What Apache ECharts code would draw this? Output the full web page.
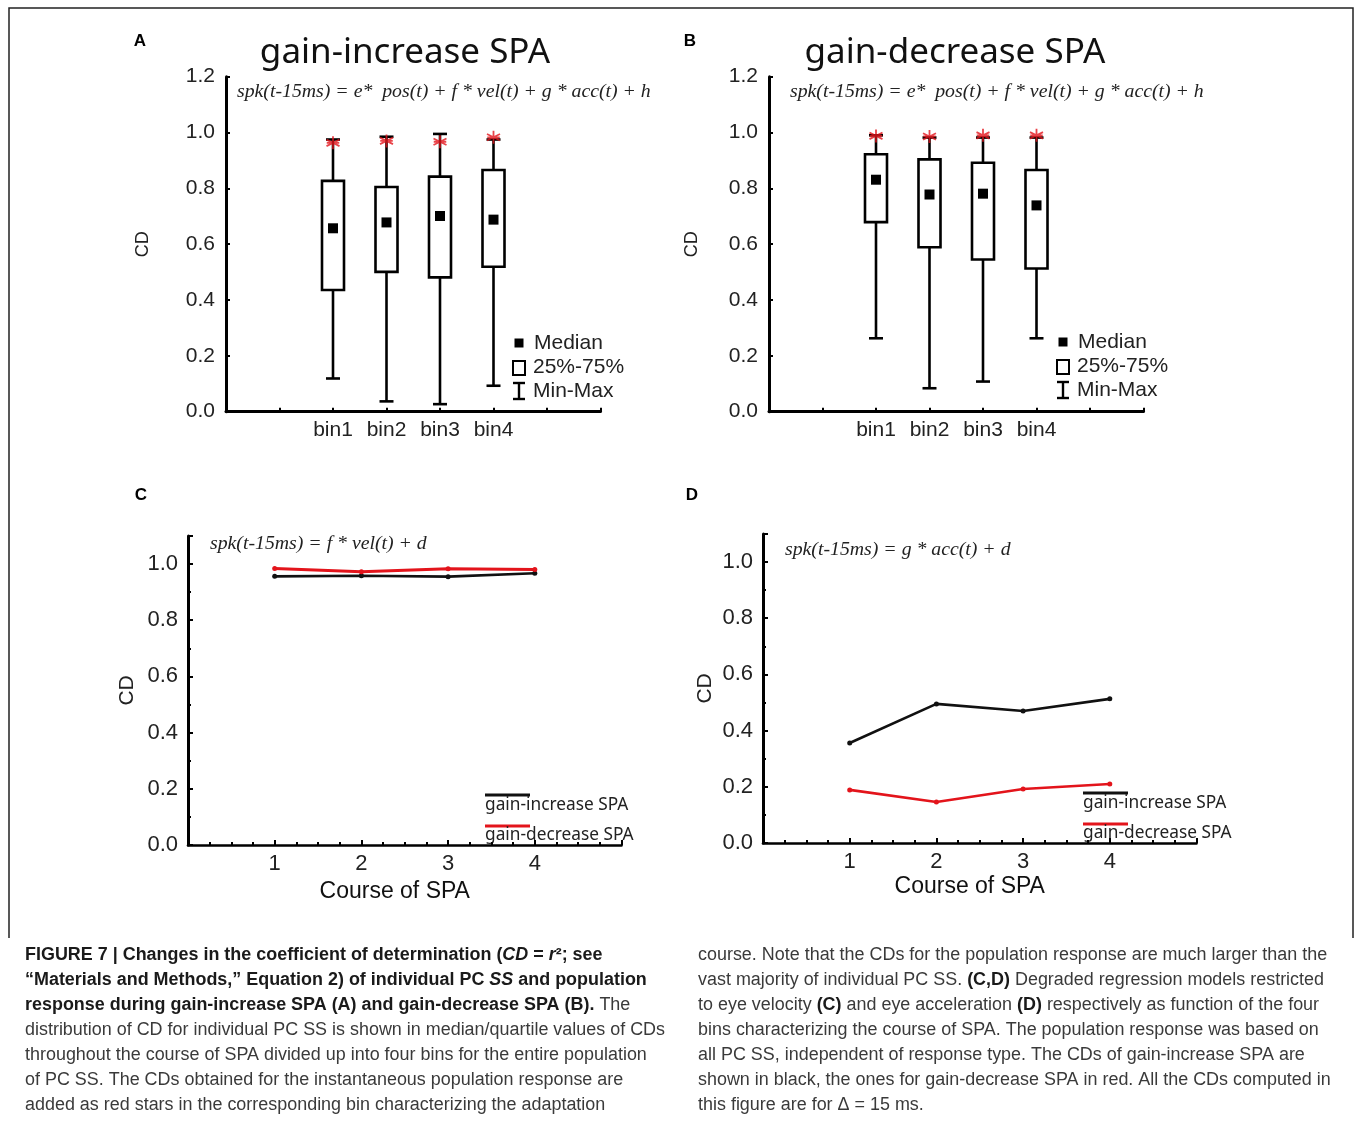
<!DOCTYPE html>
<html><head><meta charset="utf-8">
<script src="https://cdn.jsdelivr.net/npm/echarts@6/dist/echarts.min.js"></script>
<style>html,body{margin:0;padding:0;background:#fff}#c{width:1356px;height:1122px}</style>
</head><body><div id="c"></div>
<script>
// ---------- data ----------
const bins = ['bin1', 'bin2', 'bin3', 'bin4'];
const xCategoriesAB = ['pad0', 'pad1', 'bin1', 'bin2', 'bin3', 'bin4', 'pad6', 'pad7'];

// Panel A: gain-increase SPA (individual PC SS distribution)
const incMin    = [0.119, 0.037, 0.027, 0.093];
const incQ1     = [0.436, 0.501, 0.481, 0.519];
const incMedian = [0.657, 0.678, 0.701, 0.688];
const incQ3     = [0.827, 0.805, 0.842, 0.866];
const incMax    = [0.975, 0.985, 0.995, 0.975];
const incPop    = [0.963, 0.970, 0.967, 0.983];

// Panel B: gain-decrease SPA
const decMin    = [0.263, 0.084, 0.108, 0.263];
const decQ1     = [0.679, 0.589, 0.545, 0.513];
const decMedian = [0.831, 0.778, 0.781, 0.739];
const decQ3     = [0.922, 0.904, 0.892, 0.866];
const decMax    = [0.990, 0.982, 0.982, 0.982];
const decPop    = [0.988, 0.986, 0.990, 0.990];

// Panels C, D
const course = [1, 2, 3, 4];
const velInc = [0.956, 0.958, 0.955, 0.967];
const velDec = [0.984, 0.972, 0.983, 0.980];
const accInc = [0.356, 0.495, 0.470, 0.513];
const accDec = [0.189, 0.146, 0.192, 0.210];

const captionLeft = [
  [['b', 'FIGURE 7 | Changes in the coefficient of determination ('], ['bi', 'CD'], ['b', ' = '], ['bi', 'r'], ['b', '²; see']],
  [['b', '“Materials and Methods,” Equation 2) of individual PC '], ['bi', 'SS'], ['b', ' and population']],
  [['b', 'response during gain-increase SPA (A) and gain-decrease SPA (B).'], ['n', ' The']],
  [['n', 'distribution of CD for individual PC SS is shown in median/quartile values of CDs']],
  [['n', 'throughout the course of SPA divided up into four bins for the entire population']],
  [['n', 'of PC SS. The CDs obtained for the instantaneous population response are']],
  [['n', 'added as red stars in the corresponding bin characterizing the adaptation']]
];
const captionRight = [
  [['n', 'course. Note that the CDs for the population response are much larger than the']],
  [['n', 'vast majority of individual PC SS. '], ['b', '(C,D)'], ['n', ' Degraded regression models restricted']],
  [['n', 'to eye velocity '], ['b', '(C)'], ['n', ' and eye acceleration '], ['b', '(D)'], ['n', ' respectively as function of the four']],
  [['n', 'bins characterizing the course of SPA. The population response was based on']],
  [['n', 'all PC SS, independent of response type. The CDs of gain-increase SPA are']],
  [['n', 'shown in black, the ones for gain-decrease SPA in red. All the CDs computed in']],
  [['n', 'this figure are for Δ = 15 ms.']]
];

// ---------- helpers ----------
const SANS = 'Liberation Sans, Arial, sans-serif';
const SERIF = 'Liberation Serif, Times New Roman, serif';
const NOTO = 'Noto Sans, Open Sans, sans-serif';
const RED = '#e3141b';

function boxRender(params, api) {
  const x = api.value(0);
  const pMin = api.coord([x, api.value(1)]);
  const pQ1 = api.coord([x, api.value(2)]);
  const pMed = api.coord([x, api.value(3)]);
  const pQ3 = api.coord([x, api.value(4)]);
  const pMax = api.coord([x, api.value(5)]);
  const cx = pMed[0], bw = 22, cw = 14, ms = 10;
  const ls = () => ({ stroke: '#000', lineWidth: 2.6 });
  return {
    type: 'group', children: [
      { type: 'line', shape: { x1: cx, y1: pMax[1], x2: cx, y2: pQ3[1] }, style: ls() },
      { type: 'line', shape: { x1: cx, y1: pQ1[1], x2: cx, y2: pMin[1] }, style: ls() },
      { type: 'line', shape: { x1: cx - cw / 2, y1: pMax[1], x2: cx + cw / 2, y2: pMax[1] }, style: ls() },
      { type: 'line', shape: { x1: cx - cw / 2, y1: pMin[1], x2: cx + cw / 2, y2: pMin[1] }, style: ls() },
      { type: 'rect', shape: { x: cx - bw / 2, y: pQ3[1], width: bw, height: pQ1[1] - pQ3[1] }, style: { fill: '#fff', stroke: '#000', lineWidth: 2.6 } },
      { type: 'rect', shape: { x: cx - ms / 2, y: pMed[1] - ms / 2, width: ms, height: ms }, style: { fill: '#000' } }
    ]
  };
}

function abX(gi) {
  return {
    type: 'category', gridIndex: gi, data: xCategoriesAB, boundaryGap: false,
    axisLine: { show: true, lineStyle: { color: '#000', width: 3 } },
    axisTick: { show: true, inside: true, length: 4, interval: 0, lineStyle: { color: '#000', width: 2 } },
    axisLabel: { interval: 0, formatter: v => bins.includes(v) ? v : '', fontSize: 21, color: '#222', fontFamily: SANS, margin: 8 },
    splitLine: { show: false }
  };
}
function abY(gi, gap) {
  return {
    type: 'value', gridIndex: gi, min: 0, max: 1.2, interval: 0.2,
    axisLine: { show: true, lineStyle: { color: '#000', width: 3 } },
    axisTick: { show: true, inside: true, length: 4, lineStyle: { color: '#000', width: 2 } },
    axisLabel: { formatter: v => v.toFixed(1), fontSize: 21, color: '#222', fontFamily: SANS, margin: 11 },
    splitLine: { show: false },
    name: 'CD', nameLocation: 'middle', nameGap: gap,
    nameTextStyle: { fontSize: 18, color: '#222', fontFamily: SANS }
  };
}
function cdX(gi, gap) {
  return {
    type: 'value', gridIndex: gi, min: 0, max: 5, interval: 1,
    axisLine: { show: true, lineStyle: { color: '#000', width: 2.6 } },
    axisTick: { show: true, inside: true, length: 5, lineStyle: { color: '#000', width: 2 } },
    minorTick: { show: true, splitNumber: 4, length: 3, lineStyle: { color: '#000', width: 2 } },
    axisLabel: { formatter: v => course.includes(v) ? String(v) : '', fontSize: 22, color: '#222', fontFamily: SANS, margin: 8 },
    splitLine: { show: false }, minorSplitLine: { show: false },
    name: 'Course of SPA', nameLocation: 'middle', nameGap: gap,
    nameTextStyle: { fontSize: 23, color: '#111', fontFamily: SANS, padding: [0, 20, 0, 0] }
  };
}
function cdY(gi, gap) {
  return {
    type: 'value', gridIndex: gi, min: 0, max: 1.1, interval: 0.2,
    axisLine: { show: true, lineStyle: { color: '#000', width: 3 } },
    axisTick: { show: true, inside: true, length: 5, lineStyle: { color: '#000', width: 2 } },
    minorTick: { show: true, splitNumber: 2, length: 3, lineStyle: { color: '#000', width: 2 } },
    axisLabel: { formatter: v => (Math.round(v * 10) % 2 === 0 ? v.toFixed(1) : ''), fontSize: 22, color: '#222', fontFamily: SANS, margin: 10 },
    splitLine: { show: false }, minorSplitLine: { show: false },
    name: 'CD', nameLocation: 'middle', nameGap: gap,
    nameTextStyle: { fontSize: 21, color: '#222', fontFamily: SANS }
  };
}

function boxSeries(gi, mn, q1, md, q3, mx) {
  return {
    type: 'custom', xAxisIndex: gi, yAxisIndex: gi, renderItem: boxRender,
    encode: { x: 0, y: [1, 2, 3, 4, 5] },
    data: bins.map((b, i) => [b, mn[i], q1[i], md[i], q3[i], mx[i]]),
    z: 2
  };
}
function starSeries(gi, pop) {
  return {
    type: 'scatter', xAxisIndex: gi, yAxisIndex: gi,
    symbol: 'path://M6,0L6,12M0.8,3L11.2,9M0.8,9L11.2,3M1,6L11,6',
    symbolSize: [13, 13],
    itemStyle: { color: 'rgba(0,0,0,0)', borderColor: RED, borderWidth: 1.8 },
    data: bins.map((b, i) => [b, pop[i]]),
    z: 5
  };
}
function lineSeries(gi, vals, color, w) {
  return {
    type: 'line', xAxisIndex: gi, yAxisIndex: gi,
    data: course.map((c, i) => [c, vals[i]]),
    symbol: 'circle', symbolSize: 5, showSymbol: true,
    lineStyle: { color: color, width: w }, itemStyle: { color: color },
    z: 3
  };
}

function txt(x, y, text, o) {
  return {
    type: 'text', x: x, y: y, silent: true,
    style: Object.assign({ text: text, fill: '#222', fontSize: 18, fontFamily: SANS, verticalAlign: 'middle', align: 'left' }, o || {})
  };
}
function legendAB(x0, dy) {
  return [
    { type: 'rect', shape: { x: x0 - 4.5, y: 338.5 + dy, width: 9, height: 9 }, style: { fill: '#000' } },
    { type: 'rect', shape: { x: x0 - 6, y: 361 + dy, width: 12, height: 14 }, style: { fill: '#fff', stroke: '#000', lineWidth: 2 } },
    { type: 'line', shape: { x1: x0, y1: 383 + dy, x2: x0, y2: 399 + dy }, style: { stroke: '#000', lineWidth: 2.4 } },
    { type: 'line', shape: { x1: x0 - 6, y1: 383 + dy, x2: x0 + 6, y2: 383 + dy }, style: { stroke: '#000', lineWidth: 2.4 } },
    { type: 'line', shape: { x1: x0 - 6, y1: 399 + dy, x2: x0 + 6, y2: 399 + dy }, style: { stroke: '#000', lineWidth: 2.4 } },
    txt(x0 + 15, 343 + dy, 'Median', { fontSize: 21 }),
    txt(x0 + 14, 367 + dy, '25%-75%', { fontSize: 21 }),
    txt(x0 + 14, 391 + dy, 'Min-Max', { fontSize: 21 })
  ];
}
function legendCD(x0, y1, y2) {
  return [
    { type: 'line', shape: { x1: x0, y1: y1, x2: x0 + 45, y2: y1 }, style: { stroke: '#111', lineWidth: 3 } },
    txt(x0, y1 + 10, 'gain-increase SPA', { fontFamily: NOTO, fontSize: 17.3 }),
    { type: 'line', shape: { x1: x0, y1: y2, x2: x0 + 45, y2: y2 }, style: { stroke: RED, lineWidth: 3 } },
    txt(x0, y2 + 9, 'gain-decrease SPA', { fontFamily: NOTO, fontSize: 17.3 })
  ];
}

// caption
const CAP_FS = 18;
const richStyles = {
  n: { fontSize: CAP_FS, fontFamily: SANS, fill: '#3a3a3a' },
  b: { fontSize: CAP_FS, fontFamily: SANS, fontWeight: 'bold', fill: '#1a1a1a' },
  bi: { fontSize: CAP_FS, fontFamily: SANS, fontWeight: 'bold', fontStyle: 'italic', fill: '#1a1a1a' }
};
const mctx = document.createElement('canvas').getContext('2d');
mctx.font = CAP_FS + 'px ' + SANS;
const capScale = 640 / mctx.measureText(captionLeft[3][0][1]).width;
function captionGroup(x0, lines) {
  return {
    type: 'group', x: x0, y: 0, scaleX: capScale,
    children: lines.map((segs, i) => ({
      type: 'text', x: 0, y: 955 + i * 25, silent: true,
      style: {
        text: segs.map(s => '{' + s[0] + '|' + s[1] + '}').join(''),
        rich: richStyles, fontSize: CAP_FS, fontFamily: SANS, verticalAlign: 'middle', align: 'left'
      }
    }))
  };
}

const formulaStyle = { fontFamily: SERIF, fontStyle: 'italic', fontSize: 19.8, fill: '#222' };

const graphics = [
  { type: 'polyline', shape: { points: [[9, 938], [9, 8], [1353, 8], [1353, 938]] }, style: { stroke: '#222', lineWidth: 1.5, fill: null } },
  txt(140, 41, 'A', { fontWeight: 'bold', fontSize: 17, align: 'center', fill: '#000' }),
  txt(690, 41, 'B', { fontWeight: 'bold', fontSize: 17, align: 'center', fill: '#000' }),
  txt(141, 495, 'C', { fontWeight: 'bold', fontSize: 17, align: 'center', fill: '#000' }),
  txt(692, 495, 'D', { fontWeight: 'bold', fontSize: 17, align: 'center', fill: '#000' }),
  txt(405, 53, 'gain-increase SPA', { fontFamily: NOTO, fontSize: 35, align: 'center', fill: '#111' }),
  txt(955, 53, 'gain-decrease SPA', { fontFamily: NOTO, fontSize: 35, align: 'center', fill: '#111' }),
  txt(237, 92, 'spk(t-15ms) = e*  pos(t) + f * vel(t) + g * acc(t) + h', formulaStyle),
  txt(790, 92, 'spk(t-15ms) = e*  pos(t) + f * vel(t) + g * acc(t) + h', formulaStyle),
  txt(210, 544, 'spk(t-15ms) = f * vel(t) + d', formulaStyle),
  txt(785, 550, 'spk(t-15ms) = g * acc(t) + d', formulaStyle)
].concat(legendAB(519, 0), legendAB(1063, -1), legendCD(485, 795, 826), legendCD(1083, 793, 824),
  [captionGroup(25, captionLeft), captionGroup(698, captionRight)]);

const option = {
  backgroundColor: '#fff',
  animation: false,
  grid: [
    { left: 226, top: 76.7, width: 374.5, height: 335, outerBoundsMode: 'none', containLabel: false },
    { left: 769, top: 76.7, width: 374.5, height: 335, outerBoundsMode: 'none', containLabel: false },
    { left: 188, top: 535.9, width: 433.5, height: 309.1, outerBoundsMode: 'none', containLabel: false },
    { left: 763, top: 533.9, width: 433.5, height: 309.1, outerBoundsMode: 'none', containLabel: false }
  ],
  xAxis: [abX(0), abX(1), cdX(2, 35), cdX(3, 32)],
  yAxis: [abY(0, 74), abY(1, 68), cdY(2, 50), cdY(3, 47)],
  series: [
    boxSeries(0, incMin, incQ1, incMedian, incQ3, incMax),
    starSeries(0, incPop),
    boxSeries(1, decMin, decQ1, decMedian, decQ3, decMax),
    starSeries(1, decPop),
    lineSeries(2, velInc, '#111', 2.6),
    lineSeries(2, velDec, RED, 3),
    lineSeries(3, accInc, '#111', 2.6),
    lineSeries(3, accDec, RED, 2.6)
  ],
  graphic: graphics
};

const chart = echarts.init(document.getElementById('c'), null, { renderer: 'canvas', width: 1356, height: 1122 });
chart.setOption(option);
</script>
</body></html>
